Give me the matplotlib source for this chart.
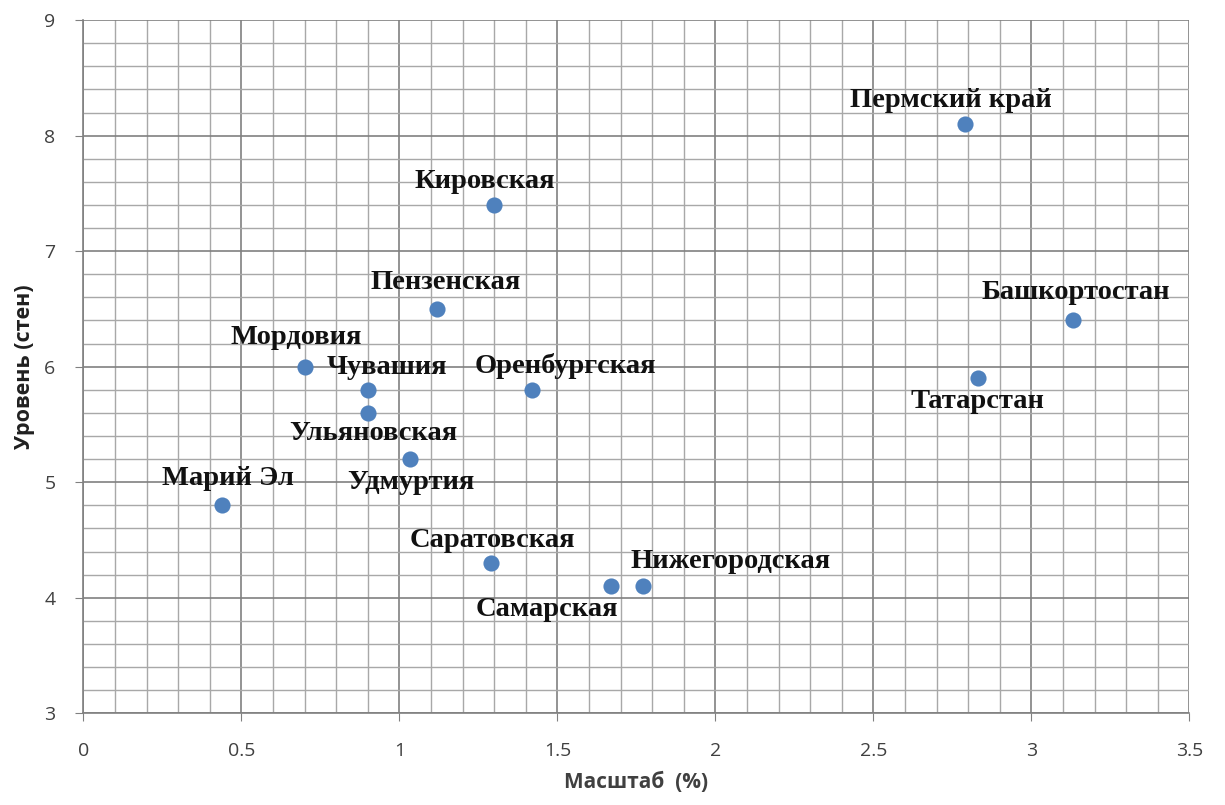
import numpy as np
import matplotlib
matplotlib.use("Agg")
import matplotlib.pyplot as plt
from matplotlib.ticker import MultipleLocator

plt.rcParams['font.family'] = ['Open Sans', 'DejaVu Sans']

names = ['Пермский край', 'Кировская', 'Пензенская', 'Мордовия', 'Чувашия',
         'Ульяновская', 'Удмуртия', 'Марий Эл', 'Оренбургская', 'Башкортостан',
         'Татарстан', 'Саратовская', 'Нижегородская', 'Самарская']
scale = [2.79, 1.30, 1.12, 0.70, 0.90, 0.90, 1.035, 0.44, 1.42, 3.13, 2.83, 1.29, 1.77, 1.67]
level = [8.1, 7.4, 6.5, 6.0, 5.8, 5.6, 5.2, 4.8, 5.8, 6.4, 5.9, 4.3, 4.1, 4.1]

# label offsets in points (dx, dy) relative to the marker
offsets = [(-10, 17), (-7, 17), (6, 19), (-6, 21), (14, 16), (4, -15), (0, -17),
           (4, 19), (24, 17), (2, 20), (0, -17), (1, 16), (63, 18), (-46, -17)]

fig, ax = plt.subplots(figsize=(12.25, 8.05), dpi=100)
fig.subplots_adjust(left=0.068, right=0.971, top=0.975, bottom=0.114)

ax.set_xlim(0, 3.5)
ax.set_ylim(3, 9)
ax.xaxis.set_major_locator(MultipleLocator(0.5))
ax.xaxis.set_minor_locator(MultipleLocator(0.1))
ax.yaxis.set_major_locator(MultipleLocator(1))
ax.yaxis.set_minor_locator(MultipleLocator(0.2))
ax.xaxis.set_major_formatter(plt.FuncFormatter(lambda v, p: ('%g' % v)))
ax.grid(which='minor', color='#a8a8a8', linewidth=1.0)
ax.grid(which='major', color='#808080', linewidth=1.2)
ax.set_axisbelow(True)
for s in ['top', 'right']:
    ax.spines[s].set_visible(False)
for s in ['left', 'bottom']:
    ax.spines[s].set_color('#808080')
    ax.spines[s].set_linewidth(1.2)
ax.tick_params(which='major', length=6, color='#808080', labelsize=14,
               labelcolor='#404040')
ax.tick_params(which='minor', length=0)
ax.tick_params(axis='x', pad=15)
ax.tick_params(axis='y', pad=14)

ax.scatter(scale, level, s=135, color='#4f81bd', zorder=3, linewidths=0)

for n, x, y, (dx, dy) in zip(names, scale, level, offsets):
    ax.annotate(n, (x, y), xytext=(dx, dy), textcoords='offset points',
                ha='center', va='center', fontsize=20.5, fontweight='bold',
                family=['Liberation Serif', 'DejaVu Serif'], color='#111111')

ax.set_xlabel('Масштаб  (%)', fontsize=15, fontweight='bold', color='#404040', labelpad=8)
ax.set_ylabel('Уровень (стен)', fontsize=15.5, fontweight='bold', color='#202020', labelpad=7)

fig.savefig('out.png', dpi=100)
